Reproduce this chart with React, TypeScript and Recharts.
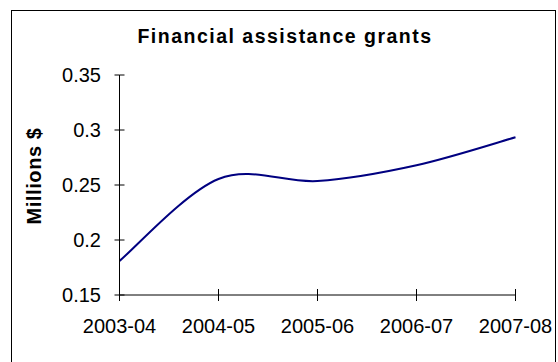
import { LineChart, Line, XAxis, YAxis } from 'recharts'

const years = ['2003-04', '2004-05', '2005-06', '2006-07', '2007-08']
const grants = [0.181, 0.2555, 0.2536, 0.268, 0.2934]
const yTicks = [0.15, 0.2, 0.25, 0.3, 0.35]

const data = years.map((year, i) => ({ year, grants: grants[i] }))

const FONT = '"Liberation Sans", Arial, sans-serif'
const TICK_Y = 5
const TICK_X = 6

// Excel-like smoothed line: Catmull-Rom through every point
function excelSmooth(context: any) {
  let pts: [number, number][] = []
  return {
    areaStart() {},
    areaEnd() {},
    lineStart() {
      pts = []
    },
    point(x: number, y: number) {
      pts.push([+x, +y])
    },
    lineEnd() {
      const n = pts.length
      if (!n) return
      context.moveTo(pts[0][0], pts[0][1])
      for (let i = 0; i < n - 1; i++) {
        const p0 = pts[Math.max(i - 1, 0)]
        const p1 = pts[i]
        const p2 = pts[i + 1]
        const p3 = pts[Math.min(i + 2, n - 1)]
        context.bezierCurveTo(
          p1[0] + (p2[0] - p0[0]) / 6,
          p1[1] + (p2[1] - p0[1]) / 6,
          p2[0] - (p3[0] - p1[0]) / 6,
          p2[1] - (p3[1] - p1[1]) / 6,
          p2[0],
          p2[1],
        )
      }
    },
  }
}

function YTick(props: any) {
  const { x, y, payload } = props
  const axisX = x + TICK_Y
  return (
    <g>
      <line x1={axisX} x2={axisX + TICK_Y} y1={y} y2={y} stroke="#000" />
      <text x={x - 13.5} y={y + 7} textAnchor="end" fontSize={20} fontFamily={FONT} fill="#000">
        {payload.value}
      </text>
    </g>
  )
}

function XTick(props: any) {
  const { x, y, payload } = props
  const axisY = y - TICK_X
  return (
    <g>
      <line x1={x} x2={x} y1={axisY - TICK_X} y2={axisY} stroke="#000" />
      <text x={x} y={y + 32} textAnchor="middle" fontSize={20} fontFamily={FONT} fill="#000">
        {payload.value}
      </text>
    </g>
  )
}

export default function App() {
  return (
    <div style={{ position: 'absolute', left: 0, top: 0, width: 558, height: 362, background: '#fff', overflow: 'hidden' }}>
      <div
        style={{
          position: 'absolute',
          left: 11,
          top: 10,
          width: 545,
          height: 400,
          border: '1px solid #000',
          boxSizing: 'border-box',
        }}
      />
      <div
        style={{
          position: 'absolute',
          left: 135,
          top: 24,
          width: 300,
          textAlign: 'center',
          fontFamily: FONT,
          fontWeight: 'bold',
          fontSize: 19.5,
          letterSpacing: 1.5,
          lineHeight: '24px',
          color: '#000',
        }}
      >
        Financial assistance grants
      </div>
      <div style={{ position: 'absolute', left: 0, top: 0 }}>
        <LineChart width={558} height={362} data={data} margin={{ top: 75, right: 42.5, bottom: 27, left: 0 }}>
          <XAxis
            dataKey="year"
            stroke="#000"
            height={40}
            tickSize={TICK_X}
            tickMargin={0}
            tick={<XTick />}
            interval={0}
          />
          <YAxis
            domain={[0.15, 0.35]}
            ticks={yTicks}
            stroke="#000"
            width={119.5}
            tickSize={TICK_Y}
            tickMargin={0}
            tick={<YTick />}
            interval={0}
            label={{
              content: () => (
                <text
                  transform="translate(41,176) rotate(-90)"
                  textAnchor="middle"
                  fontSize={20}
                  fontWeight="bold"
                  fontFamily={FONT}
                  letterSpacing={0.6}
                  fill="#000"
                >
                  Millions $
                </text>
              ),
            }}
          />
          <Line
            dataKey="grants"
            type={excelSmooth as any}
            stroke="#000080"
            strokeWidth={2}
            dot={false}
            activeDot={false}
            isAnimationActive={false}
          />
        </LineChart>
      </div>
    </div>
  )
}
